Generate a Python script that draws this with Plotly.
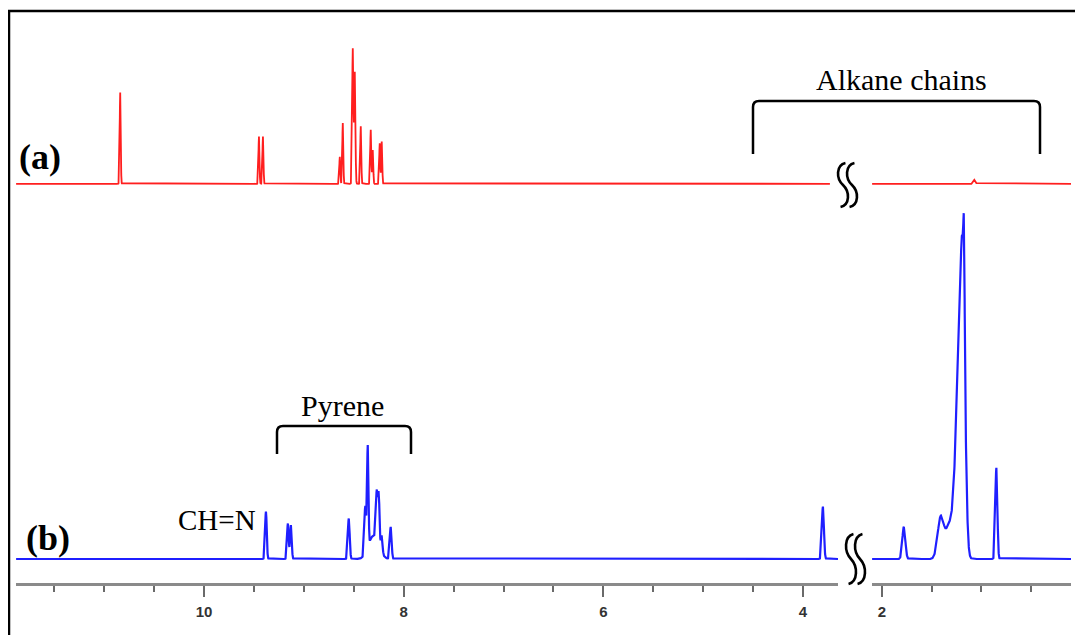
import numpy as np
import plotly.graph_objects as go

# ---------------- data ----------------
# spectrum (a): peak positions (ppm), heights (a.u.), gaussian widths (ppm)
red_ppm = [10.84, 9.45, 9.41, 8.64, 8.61, 8.51, 8.49, 8.43, 8.33, 8.31, 8.24, 8.22, 1.07]
red_height = [27, 14, 14, 8, 18, 40, 33, 17, 16, 10, 12, 12.5, 1.2]
red_sigma = [0.005, 0.005, 0.005, 0.005, 0.005, 0.006, 0.006, 0.005, 0.005, 0.005, 0.005, 0.005, 0.01]
red_offset = 111

# spectrum (b)
blue_ppm = [9.38, 9.16, 9.13, 8.55, 8.385, 8.36, 8.30, 8.27, 8.25, 8.22, 8.13,
            3.80, 1.78, 1.41, 1.32, 1.24, 1.19, 1.175, 0.85]
blue_height = [14, 10.5, 10, 12, 14, 30, 7, 14, 15, 5, 9.5,
               15.5, 9.5, 12, 10, 38, 85, 25, 27]
blue_sigma = [0.008, 0.008, 0.008, 0.009, 0.009, 0.007, 0.05, 0.008, 0.008, 0.008, 0.009,
              0.01, 0.015, 0.03, 0.04, 0.03, 0.025, 0.006, 0.01]

# axis segments (ppm) and ticks
left_range = [11.884, 3.649]
right_range = [2.10, 0.10]
left_tick_vals = [10, 8, 6, 4]
left_tick_text = ["10", "8", "6", "4"]
right_tick_vals = [2]
right_tick_text = ["2"]

# the page puts the figure 8 px in from the window corner
OFF = 8
FW, FH = 1075, 627


def px(x):
    return (x - OFF) / FW


def py(y):
    return 1 - (y - OFF) / FH


def spectrum(grid, centers, heights, sigmas):
    y = np.zeros_like(grid)
    for c, h, s in zip(centers, heights, sigmas):
        y += h * np.exp(-((grid - c) ** 2) / (2 * s * s))
    return y


grid_left = np.arange(left_range[1], left_range[0], 0.001)
grid_right = np.arange(right_range[1], right_range[0], 0.001)
grid_red_left = np.arange(3.73, left_range[0], 0.001)

fig = go.Figure()
red = "#ff1f1f"
blue = "#1f1fff"

fig.add_trace(go.Scatter(x=grid_red_left, y=spectrum(grid_red_left, red_ppm, red_height, red_sigma) + red_offset,
                         mode="lines", line=dict(color=red, width=1.8), xaxis="x", yaxis="y", hoverinfo="skip"))
fig.add_trace(go.Scatter(x=grid_right, y=spectrum(grid_right, red_ppm, red_height, red_sigma) + red_offset,
                         mode="lines", line=dict(color=red, width=1.8), xaxis="x2", yaxis="y", hoverinfo="skip"))
fig.add_trace(go.Scatter(x=grid_left, y=spectrum(grid_left, blue_ppm, blue_height, blue_sigma),
                         mode="lines", line=dict(color=blue, width=2.2), xaxis="x", yaxis="y", hoverinfo="skip"))
fig.add_trace(go.Scatter(x=grid_right, y=spectrum(grid_right, blue_ppm, blue_height, blue_sigma),
                         mode="lines", line=dict(color=blue, width=2.2), xaxis="x2", yaxis="y", hoverinfo="skip"))

axis_common = dict(
    showgrid=False, zeroline=False, showline=True, linecolor="#8a8a8a", linewidth=2.5,
    ticks="outside", ticklen=11, tickwidth=1.5, tickcolor="#6a6a6a",
    tickfont=dict(family="Liberation Sans Narrow, Liberation Sans, Arial", size=15, color="#333333", weight="bold"),
    ticklabelstandoff=2,
    minor=dict(dtick=0.5, tick0=0, ticks="outside", ticklen=6, tickwidth=1.5, tickcolor="#6a6a6a"),
    anchor="y", fixedrange=True,
)
ybottom = 583
baseline_px = 559
scale = 3.38  # px per unit
fig.update_layout(
    width=FW, height=FH,
    margin=dict(l=0, r=0, t=0, b=0),
    paper_bgcolor="white", plot_bgcolor="white",
    showlegend=False,
    xaxis=dict(domain=[px(16), px(838)], range=left_range,
               tickmode="array", tickvals=left_tick_vals, ticktext=left_tick_text, **axis_common),
    xaxis2=dict(domain=[px(872), px(1071)], range=right_range,
                tickmode="array", tickvals=right_tick_vals, ticktext=right_tick_text, **axis_common),
    yaxis=dict(domain=[py(ybottom), 1], range=[-(ybottom - baseline_px) / scale, (baseline_px - OFF) / scale],
               visible=False, fixedrange=True),
)

shapes = []
# frame
shapes.append(dict(type="rect", xref="paper", yref="paper", x0=px(9), x1=px(1100), y0=py(660), y1=py(11),
                   line=dict(color="black", width=2.5)))


def bracket(x1, x2, ytop, ybot, r=6):
    return (f"M {px(x1)},{py(ybot)} L {px(x1)},{py(ytop + r)} Q {px(x1)},{py(ytop)} {px(x1 + r)},{py(ytop)} "
            f"L {px(x2 - r)},{py(ytop)} Q {px(x2)},{py(ytop)} {px(x2)},{py(ytop + r)} L {px(x2)},{py(ybot)}")


def s_curve(cx, yt, yb, w):
    h = yb - yt
    pts = [(cx + 0.35 * w, yt), (cx - 1.0 * w, yt + 0.05 * h), (cx - 1.0 * w, yt + 0.35 * h), (cx, yt + 0.5 * h),
           (cx + 1.0 * w, yt + 0.65 * h), (cx + 1.0 * w, yb - 0.05 * h), (cx - 0.35 * w, yb)]
    p = [(px(a), py(b)) for a, b in pts]
    return (f"M {p[0][0]},{p[0][1]} C {p[1][0]},{p[1][1]} {p[2][0]},{p[2][1]} {p[3][0]},{p[3][1]} "
            f"C {p[4][0]},{p[4][1]} {p[5][0]},{p[5][1]} {p[6][0]},{p[6][1]}")


for path in [bracket(753, 1040, 101, 154), bracket(277, 411, 426, 454)]:
    shapes.append(dict(type="path", xref="paper", yref="paper", path=path, line=dict(color="black", width=2.5)))

# axis-break symbols
for cx, yt, yb in [(843, 163, 207), (852, 163, 207), (851, 534, 584), (860, 534, 584)]:
    shapes.append(dict(type="path", xref="paper", yref="paper", path=s_curve(cx, yt, yb, 7),
                       line=dict(color="black", width=2.6)))
fig.update_layout(shapes=shapes)

serif = "Liberation Serif"
ann = [
    dict(text="<b>(a)</b>", x=px(40), y=py(157), size=36),
    dict(text="<b>(b)</b>", x=px(48), y=py(538), size=36),
    dict(text="Alkane chains", x=px(901), y=py(79), size=30),
    dict(text="Pyrene", x=px(342), y=py(406), size=30),
    dict(text="CH=N", x=px(217), y=py(520), size=29),
]
fig.update_layout(annotations=[
    dict(text=a["text"], x=a["x"], y=a["y"], xref="paper", yref="paper", showarrow=False,
         xanchor="center", yanchor="middle", font=dict(family=serif, size=a["size"], color="black"))
    for a in ann
])

fig.write_html("out.html")
